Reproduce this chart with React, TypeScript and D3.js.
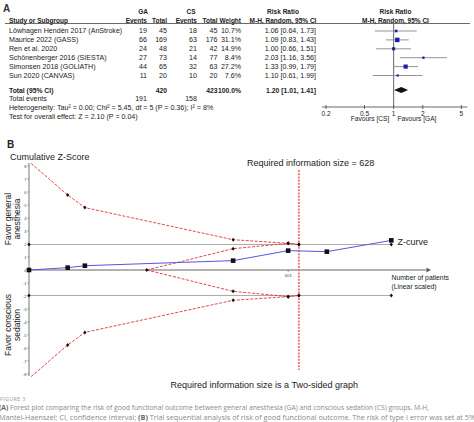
import React from "react";
import * as d3 from "d3";

const studies = [
  "Löwhagen Hendén 2017 (AnStroke)",
  "Maurice 2022 (GASS)",
  "Ren et al. 2020",
  "Schönenberger 2016 (SIESTA)",
  "Simonsen 2018 (GOLIATH)",
  "Sun 2020 (CANVAS)",
];
const gaEvents = [19, 66, 24, 27, 44, 11];
const gaTotal = [45, 169, 48, 73, 65, 20];
const csEvents = [18, 63, 21, 14, 32, 10];
const csTotal = [45, 176, 42, 77, 63, 20];
const weights = [10.7, 31.1, 14.9, 8.4, 27.2, 7.6];
const rr = [1.06, 1.09, 1.0, 2.03, 1.33, 1.1];
const rrLo = [0.64, 0.83, 0.66, 1.16, 0.99, 0.61];
const rrHi = [1.73, 1.43, 1.51, 3.56, 1.79, 1.99];
const pooled = [1.2, 1.01, 1.41];
const totals = [420, 423];
const totalEvents = [191, 158];
const rrTicks = [0.2, 0.5, 1, 2, 5];

// Trial sequential analysis
const zPatients = [0, 90, 130, 475, 603, 693, 843];
const zValues = [0, 0.18, 0.33, 0.72, 1.49, 1.41, 2.28];
const outerPatients = [5, 90, 130, 475, 603, 628];
const outerZ = [8.2, 5.77, 4.8, 2.33, 2.05, 1.96];
const innerPatients = [274, 475, 603, 628];
const innerZ = [0, 1.64, 2.05, 1.96];
const conventionalZ = 1.96;
const maxPatients = 843;
const requiredSize = 628;
const xTickPatients = [603];
const yTicks = d3.range(-8, 9);

const FONT = "'Liberation Sans', Arial, sans-serif";

export default function App() {
  // ---------- Panel A ----------
  const rowY = (i: number) => 31 + i * 8.9;
  const fx = d3.scaleLog().domain([0.2, 5]).range([326, 461.3]);
  const fs = 7.1;
  const hs = 6.5;
  const txt = "#222";

  // ---------- Panel B ----------
  const x = d3.scaleLinear().domain([0, maxPatients]).range([29, 391.3]);
  const y = d3.scaleLinear().domain([-8, 8]).range([374, 166]);
  const line = d3.line<[number, number]>().x((d) => x(d[0])).y((d) => y(d[1]));
  const zip = (a: number[], b: number[], s = 1): [number, number][] => a.map((v, i) => [v, b[i] * s]);

  const redCol = "#e2303c";
  const dots: [number, number][] = [
    ...zip(outerPatients, outerZ).slice(1),
    ...zip(outerPatients, outerZ, -1).slice(1),
    ...zip(innerPatients, innerZ).slice(1),
    ...zip(innerPatients, innerZ, -1),
    [0, conventionalZ],
    [0, -conventionalZ],
    [maxPatients, conventionalZ],
    [maxPatients, -conventionalZ],
  ];

  return (
    <svg width={474} height={422} style={{ position: "absolute", left: 0, top: 0, background: "#fff" }} fontFamily={FONT}>
      {/* ================= A ================= */}
      <text x={3} y={12} fontSize={10} fontWeight="bold" fill="#333">A</text>
      <g fontSize={fs} fill={txt} dominantBaseline="central">
        <g fontSize={hs} fontWeight="bold">
          <text x={143} y={11} textAnchor="middle">GA</text>
          <text x={191} y={11} textAnchor="middle">CS</text>
          <text x={283} y={11} textAnchor="middle">Risk Ratio</text>
          <text x={395.5} y={11} textAnchor="middle">Risk Ratio</text>
          <text x={9} y={20.5}>Study or Subgroup</text>
          <text x={147} y={20.5} textAnchor="end">Events</text>
          <text x={167} y={20.5} textAnchor="end">Total</text>
          <text x={197} y={20.5} textAnchor="end">Events</text>
          <text x={217.5} y={20.5} textAnchor="end">Total</text>
          <text x={241} y={20.5} textAnchor="end">Weight</text>
          <text x={283} y={20.5} textAnchor="middle">M-H, Random, 95% CI</text>
          <text x={395.5} y={20.5} textAnchor="middle">M-H, Random, 95% CI</text>
        </g>
        {studies.map((s, i) => (
          <g key={s}>
            <text x={9} y={rowY(i)}>{s}</text>
            <text x={147} y={rowY(i)} textAnchor="end">{gaEvents[i]}</text>
            <text x={167} y={rowY(i)} textAnchor="end">{gaTotal[i]}</text>
            <text x={197} y={rowY(i)} textAnchor="end">{csEvents[i]}</text>
            <text x={217.5} y={rowY(i)} textAnchor="end">{csTotal[i]}</text>
            <text x={241} y={rowY(i)} textAnchor="end">{weights[i].toFixed(1)}%</text>
            <text x={316} y={rowY(i)} textAnchor="end">
              {`${rr[i].toFixed(2)} [${rrLo[i].toFixed(2)}, ${rrHi[i].toFixed(2)}]`}
            </text>
          </g>
        ))}
        <g fontWeight="bold" fontSize={6.8}>
          <text x={9} y={90}>Total (95% CI)</text>
          <text x={167} y={90} textAnchor="end">{totals[0]}</text>
          <text x={217.5} y={90} textAnchor="end">{totals[1]}</text>
          <text x={241} y={90} textAnchor="end">100.0%</text>
          <text x={316} y={90} textAnchor="end">
            {`${pooled[0].toFixed(2)} [${pooled[1].toFixed(2)}, ${pooled[2].toFixed(2)}]`}
          </text>
        </g>
        <text x={9} y={99.3}>Total events</text>
        <text x={147} y={99.3} textAnchor="end">{totalEvents[0]}</text>
        <text x={197} y={99.3} textAnchor="end">{totalEvents[1]}</text>
        <text x={9} y={108.2}>Heterogeneity: Tau² = 0.00; Chi² = 5.45, df = 5 (P = 0.36); I² = 8%</text>
        <text x={9} y={117.2}>Test for overall effect: Z = 2.10 (P = 0.04)</text>
        <text x={370} y={118.5} textAnchor="middle" fontSize={6.6}>Favours [CS]</text>
        <text x={417} y={118.5} textAnchor="middle" fontSize={6.6}>Favours [GA]</text>
        {rrTicks.map((t) => (
          <text key={t} x={fx(t)} y={113} textAnchor="middle" fontSize={6.6}>{t}</text>
        ))}
      </g>
      <line x1={5} x2={470} y1={23.5} y2={23.5} stroke="#444" strokeWidth={0.8} />
      {/* forest */}
      <line x1={fx(1)} x2={fx(1)} y1={24} y2={107} stroke="#555" strokeWidth={0.9} />
      <line x1={fx(0.2) - 4} x2={fx(5) + 6} y1={107} y2={107} stroke="#555" strokeWidth={0.9} />
      {rrTicks.map((t) => (
        <line key={t} x1={fx(t)} x2={fx(t)} y1={105} y2={109} stroke="#555" strokeWidth={0.9} />
      ))}
      {studies.map((s, i) => {
        const side = 0.8 * Math.sqrt(weights[i]);
        return (
          <g key={s}>
            <line x1={fx(rrLo[i])} x2={fx(rrHi[i])} y1={rowY(i)} y2={rowY(i)} stroke="#888" strokeWidth={0.9} />
            <rect x={fx(rr[i]) - side / 2} y={rowY(i) - side / 2} width={side} height={side} fill="#1c1ca8" />
          </g>
        );
      })}
      <path
        d={`M${fx(pooled[1])},90 L${fx(pooled[0])},87 L${fx(pooled[2])},90 L${fx(pooled[0])},93 Z`}
        fill="#111"
      />

      {/* ================= B ================= */}
      <text x={7} y={148} fontSize={10} fontWeight="bold" fill="#222">B</text>
      <text x={10} y={159.5} fontSize={9} fill="#222">Cumulative Z-Score</text>
      <text x={247} y={166} fontSize={9} fill="#222">Required information size = 628</text>

      <g transform="translate(11,219) rotate(-90)" fontSize={8.5} fill="#222" textAnchor="middle">
        <text x={0} y={0}>Favor general</text>
        <text x={0} y={8.5}>anesthesia</text>
      </g>
      <g transform="translate(11,325) rotate(-90)" fontSize={8.5} fill="#222" textAnchor="middle">
        <text x={0} y={0}>Favor conscious</text>
        <text x={0} y={8.5}>sedation</text>
      </g>

      {/* y axis */}
      <line x1={29} x2={29} y1={163} y2={376} stroke="#555" strokeWidth={0.8} />
      {yTicks.map((t) => (
        <g key={t}>
          <line x1={27.5} x2={29} y1={y(t)} y2={y(t)} stroke="#555" strokeWidth={0.6} />
          <text x={26.5} y={y(t)} fontSize={4} textAnchor="end" dominantBaseline="central" fill="#444">
            {t}
          </text>
        </g>
      ))}
      {/* conventional boundaries */}
      {[conventionalZ, -conventionalZ].map((z) => (
        <line key={z} x1={x(0)} x2={x(maxPatients)} y1={y(z)} y2={y(z)} stroke="#aaa" strokeWidth={1} />
      ))}
      {/* x axis */}
      <line x1={29} x2={428} y1={y(0)} y2={y(0)} stroke="#555" strokeWidth={0.9} />
      <path d={`M431,${y(0)} L426,${y(0) - 2.5} L427,${y(0)} L426,${y(0) + 2.5} Z`} fill="#555" />
      {xTickPatients.map((t) => (
        <g key={t}>
          <line x1={x(t)} x2={x(t)} y1={y(0)} y2={y(0) + 2} stroke="#555" strokeWidth={0.6} />
          <text x={x(t)} y={y(0) + 5} fontSize={4} textAnchor="middle" dominantBaseline="central" fill="#444">{t}</text>
        </g>
      ))}
      <text x={391.5} y={280} fontSize={6.8} fill="#222">Number of patients</text>
      <text x={391.5} y={288.5} fontSize={6.8} fill="#222">(Linear scaled)</text>

      {/* RIS vertical */}
      <line x1={x(requiredSize)} x2={x(requiredSize)} y1={170} y2={370} stroke="#f07a80" strokeWidth={2} strokeDasharray="2,1.2" />

      {/* boundaries */}
      {[1, -1].map((s) => (
        <g key={s}>
          <path d={line(zip(outerPatients, outerZ, s)) || ""} fill="none" stroke={redCol} strokeWidth={0.9} strokeDasharray="3,1.5" />
          <path d={line(zip(innerPatients, innerZ, s)) || ""} fill="none" stroke={redCol} strokeWidth={0.9} strokeDasharray="3,1.5" />
        </g>
      ))}
      {dots.map((d, i) => (
        <path key={i} d={`M${x(d[0])},${y(d[1]) - 2} L${x(d[0]) + 1.6},${y(d[1])} L${x(d[0])},${y(d[1]) + 2} L${x(d[0]) - 1.6},${y(d[1])} Z`} fill="#111" />
      ))}

      {/* Z-curve */}
      <path d={line(zip(zPatients, zValues)) || ""} fill="none" stroke="#5656e0" strokeWidth={1} />
      {zPatients.map((p, i) => (
        <rect key={i} x={x(p) - 2.3} y={y(zValues[i]) - 2.3} width={4.6} height={4.6} fill="#111" />
      ))}
      <text x={397.5} y={y(zValues[zValues.length - 1]) + 1.5} fontSize={9} dominantBaseline="central" fill="#222">Z-curve</text>

      <text x={170.5} y={387.5} fontSize={9} fill="#222">Required information size is a Two-sided graph</text>

      {/* caption */}
      <text x={0} y={401} fontSize={5.5} fill="#999" fontFamily="'Open Sans', sans-serif" letterSpacing={0.3}>FIGURE 3</text>
      <text x={-1} y={410} fontSize={7} fill="#8a8a8a" fontFamily="'Open Sans', sans-serif" textLength={430} lengthAdjust="spacingAndGlyphs">
        <tspan fontWeight="bold" fill="#666">(A)</tspan> Forest plot comparing the risk of good functional outcome between general anesthesia (GA) and conscious sedation (CS) groups. M-H,
      </text>
      <text x={-1} y={419.5} fontSize={7} fill="#8a8a8a" fontFamily="'Open Sans', sans-serif" textLength={476} lengthAdjust="spacingAndGlyphs">
        Mantel-Haenszel; CI, confidence interval; <tspan fontWeight="bold" fill="#666">(B)</tspan> Trial sequential analysis of risk of good functional outcome. The risk of type I error was set at 5%
      </text>
    </svg>
  );
}
